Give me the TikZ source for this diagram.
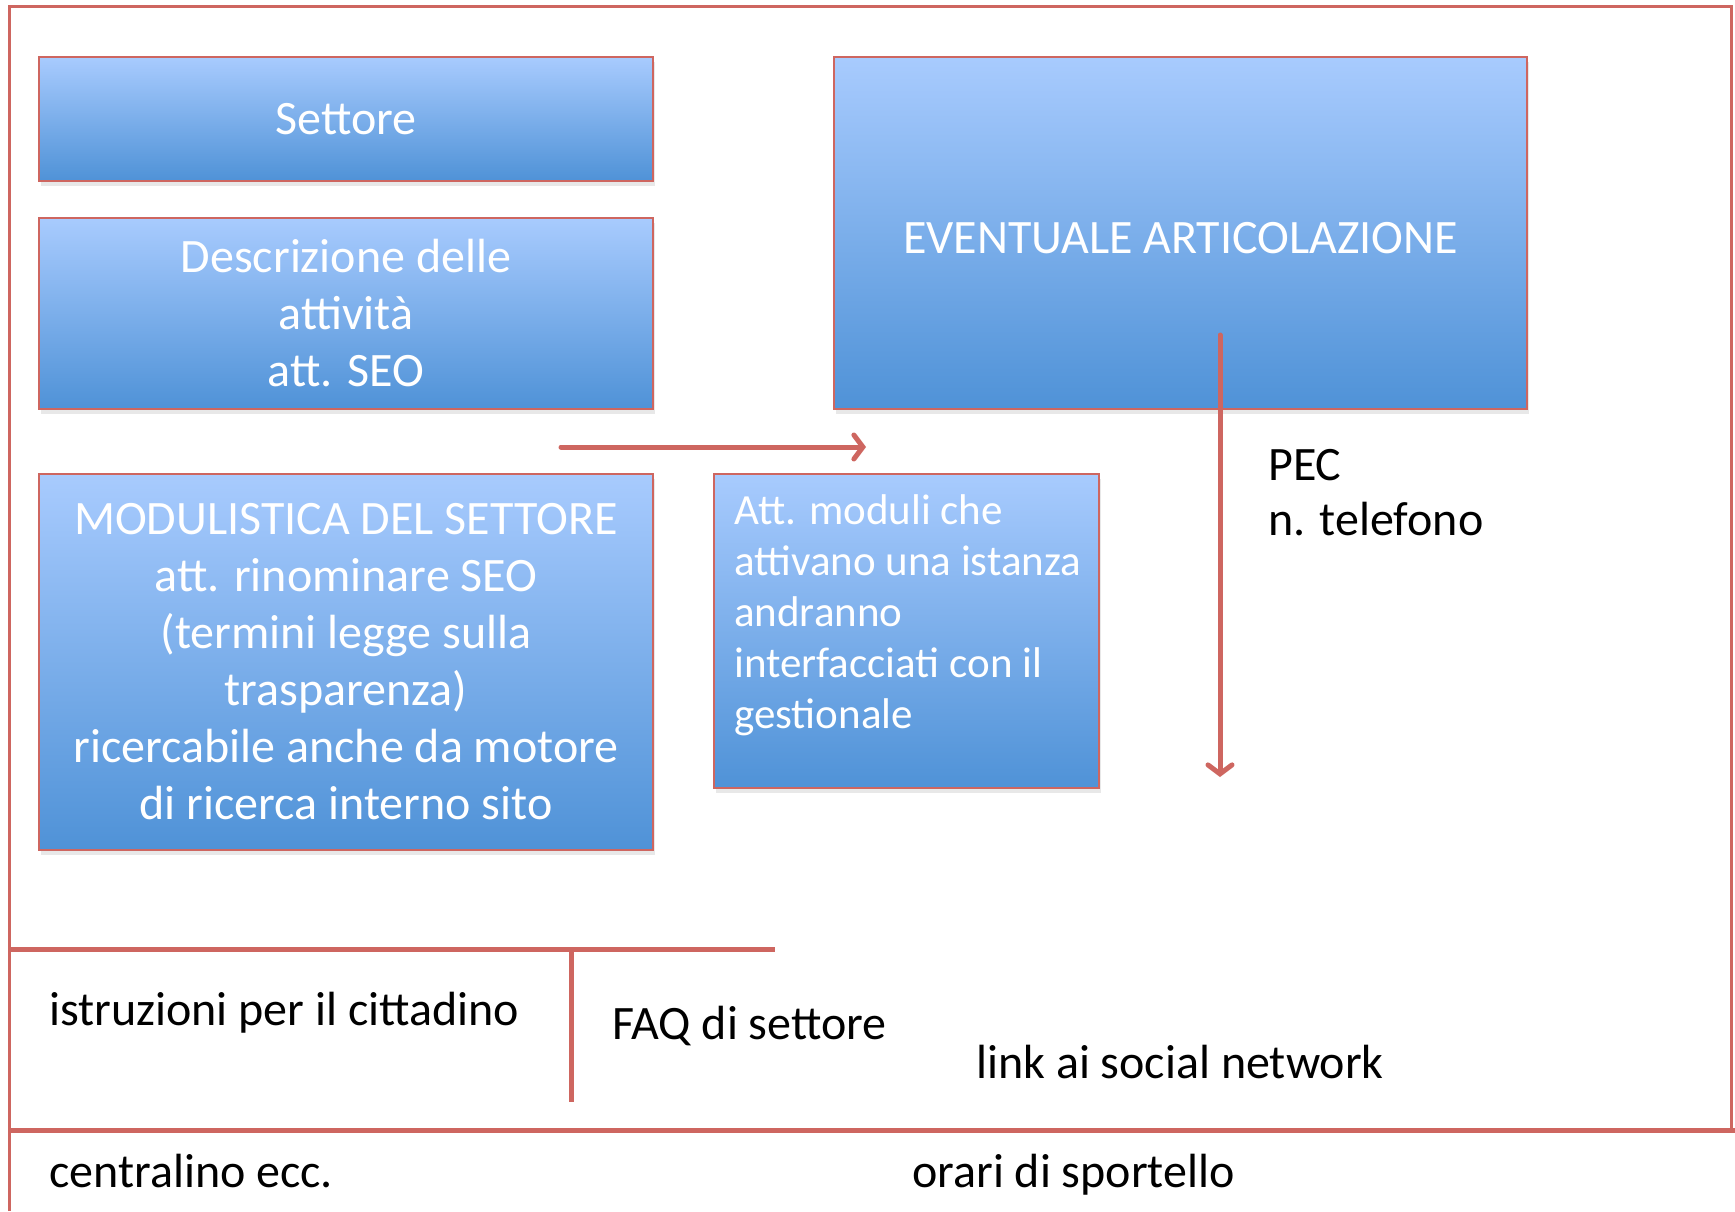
\documentclass[tikz,border=0pt]{standalone}
\usepackage{fontspec}
\setmainfont{Carlito}
\usetikzlibrary{arrows.meta,shadows}
\definecolor{bord}{RGB}{206,102,96}
\definecolor{btop}{RGB}{168,203,254}
\definecolor{bbot}{RGB}{79,146,215}
\begin{document}
\begin{tikzpicture}[x=1pt,y=-1pt,
  box/.style={draw=bord, line width=2.5pt, top color=btop, bottom color=bbot,
    text=white, font=\fontsize{48}{57}\selectfont, align=center, inner sep=0pt,
    drop shadow={shadow xshift=2pt, shadow yshift=-5pt, opacity=0.18}},
  smalltxt/.style={text=white, font=\fontsize{43}{51}\selectfont, align=left, inner sep=0pt},
  lbl/.style={text=black, font=\fontsize{48}{55}\selectfont, align=left, inner sep=0pt, anchor=base west},
  rule/.style={draw=bord, line width=5pt},
  frame/.style={draw=bord, line width=3pt},
  conn/.style={draw=bord, line width=5pt, line cap=round,
    -{Straight Barb[length=9pt, width=24pt, line width=5pt, line cap=round]}}
]
\fill[white] (0,0) rectangle (1735,1211);
\useasboundingbox (0,0) rectangle (1735,1211);

% outer frame
\coordinate (fbl) at (9,1211);
\coordinate (ftl) at (9,6);
\coordinate (ftr) at (1731,6);
\coordinate (fbr) at (1731,1130);
\draw[frame] (fbl) -- (ftl) -- (ftr) -- (fbr);

% boxes
\node[box, minimum width=614, minimum height=124] (settore) at (346,119) {Settore};
\node[box, minimum width=614, minimum height=191] (descr) at (346,313.5)
  {Descrizione delle\\attività\\att. SEO};
\node[box, minimum width=614, minimum height=376] (modul) at (346,662)
  {MODULISTICA DEL SETTORE\\att. rinominare SEO\\(termini legge sulla\\trasparenza)\\ricercabile anche da motore\\di ricerca interno sito};
\node[box, minimum width=693, minimum height=352] (event) at (1180.5,233) {};
\node[text=white, font=\fontsize{48}{57}\selectfont, inner sep=0pt] (eventtxt) at (1180.5,238) {EVENTUALE ARTICOLAZIONE};
\node[box, minimum width=385, minimum height=314] (att) at (906.5,631) {};
\node[smalltxt, anchor=base west] (atttxt) at (734,728)
  {Att. moduli che\\attivano una istanza\\andranno\\interfacciati con il\\gestionale};

% arrows
\coordinate (h1) at (561,447);
\coordinate (h2) at (866,447);
\draw[conn] (h1) -- (h2);
\coordinate (v1) at (1220,335);
\coordinate (v2) at (1220,777);
\draw[conn] (v1) -- (v2);

% labels
\node[lbl] (pec) at (1268,535) {PEC\\n. telefono};
\node[lbl] (istr) at (49,1025) {istruzioni per il cittadino};
\node[lbl] (faq) at (612,1039) {FAQ di settore};
\node[lbl] (link) at (976,1078) {link ai social network};
\node[lbl] (centr) at (49,1187) {centralino ecc.};
\node[lbl] (orari) at (912,1187) {orari di sportello};

% separators
\coordinate (s1a) at (9,949);
\coordinate (s1b) at (775,949);
\draw[rule] (s1a) -- (s1b);
\coordinate (s2a) at (571,949);
\coordinate (s2b) at (571,1102);
\draw[rule] (s2a) -- (s2b);
\coordinate (s3a) at (9,1130);
\coordinate (s3b) at (1735,1130);
\draw[rule] (s3a) -- (s3b);
\end{tikzpicture}
\end{document}
